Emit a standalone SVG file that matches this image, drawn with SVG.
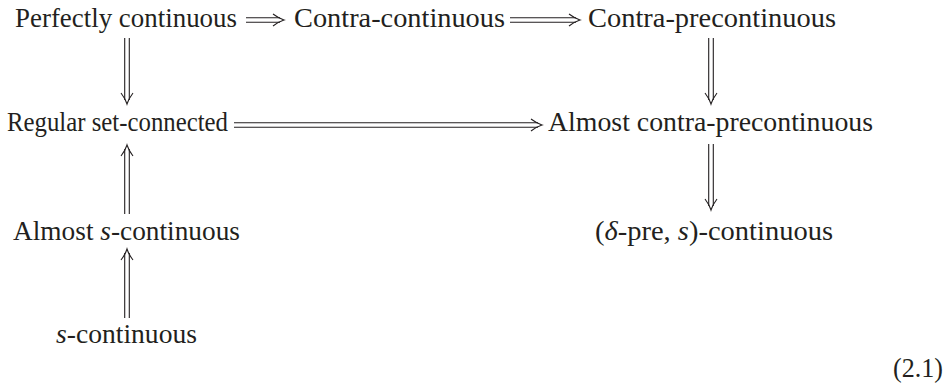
<svg xmlns="http://www.w3.org/2000/svg" width="947" height="384" viewBox="0 0 947 384">
<style>
text { font-family: "Liberation Serif", "Times New Roman", serif; font-size: 28px; fill: #231f20; }
.i { font-style: italic; }
.c line, .c path { stroke: #231f20; stroke-width: 1.1; fill: none; stroke-linecap: butt; }
</style>
<rect width="947" height="384" fill="#ffffff"/>
<g id="connectors" class="c">
  <!-- Perfectly -> Contra-continuous -->
  <g><line x1="246" y1="17.7" x2="280" y2="17.7"/><line x1="246" y1="22.3" x2="280" y2="22.3"/><path d="M273,14 Q279,18.5 284,20 Q279,21.5 273,26"/></g>
  <!-- Contra-continuous -> Contra-precontinuous -->
  <g><line x1="510" y1="17.7" x2="576" y2="17.7"/><line x1="510" y1="22.3" x2="576" y2="22.3"/><path d="M569,14 Q575,18.5 580,20 Q575,21.5 569,26"/></g>
  <!-- Regular set-connected -> Almost contra-precontinuous -->
  <g><line x1="234" y1="122.7" x2="538" y2="122.7"/><line x1="234" y1="127.3" x2="538" y2="127.3"/><path d="M531,119 Q537,123.5 542,125 Q537,126.5 531,131"/></g>
  <!-- Perfectly -> Regular (down) -->
  <g><line x1="124.7" y1="38" x2="124.7" y2="100"/><line x1="129.3" y1="38" x2="129.3" y2="100"/><path d="M121,93 Q125.5,99 127,104 Q128.5,99 133,93"/></g>
  <!-- Contra-precontinuous -> Almost contra-precontinuous (down) -->
  <g><line x1="708.7" y1="38" x2="708.7" y2="100"/><line x1="713.3" y1="38" x2="713.3" y2="100"/><path d="M705,93 Q709.5,99 711,104 Q712.5,99 717,93"/></g>
  <!-- Almost contra-precontinuous -> (delta-pre, s) (down) -->
  <g><line x1="708.7" y1="144" x2="708.7" y2="206"/><line x1="713.3" y1="144" x2="713.3" y2="206"/><path d="M705,199 Q709.5,205 711,210 Q712.5,205 717,199"/></g>
  <!-- Almost s-continuous -> Regular (up) -->
  <g><line x1="124.7" y1="149" x2="124.7" y2="214"/><line x1="129.3" y1="149" x2="129.3" y2="214"/><path d="M121,156 Q125.5,150 127,145 Q128.5,150 133,156"/></g>
  <!-- s-continuous -> Almost s-continuous (up) -->
  <g><line x1="124.7" y1="253" x2="124.7" y2="318"/><line x1="129.3" y1="253" x2="129.3" y2="318"/><path d="M121,260 Q125.5,254 127,249 Q128.5,254 133,260"/></g>
</g>
<g id="n-perfectly"><text x="15" y="27" textLength="222" lengthAdjust="spacingAndGlyphs">Perfectly continuous</text></g>
<g id="n-contra"><text x="294" y="27" textLength="211" lengthAdjust="spacingAndGlyphs">Contra-continuous</text></g>
<g id="n-contrapre"><text x="588" y="27" textLength="248" lengthAdjust="spacingAndGlyphs">Contra-precontinuous</text></g>
<g id="n-regular"><text x="7" y="131" textLength="221" lengthAdjust="spacingAndGlyphs">Regular set-connected</text></g>
<g id="n-almostcontrapre"><text x="548" y="131" textLength="325" lengthAdjust="spacingAndGlyphs">Almost contra-precontinuous</text></g>
<g id="n-almosts"><text x="13" y="240" textLength="227" lengthAdjust="spacingAndGlyphs">Almost <tspan class="i">s</tspan>-continuous</text></g>
<g id="n-deltapre"><text x="595" y="240" textLength="238" lengthAdjust="spacingAndGlyphs">(<tspan class="i">δ</tspan>-pre, <tspan class="i">s</tspan>)-continuous</text></g>
<g id="n-s"><text x="56" y="343" textLength="141" lengthAdjust="spacingAndGlyphs"><tspan class="i">s</tspan>-continuous</text></g>
<text x="893" y="377" textLength="50" lengthAdjust="spacingAndGlyphs">(2.1)</text>
</svg>
